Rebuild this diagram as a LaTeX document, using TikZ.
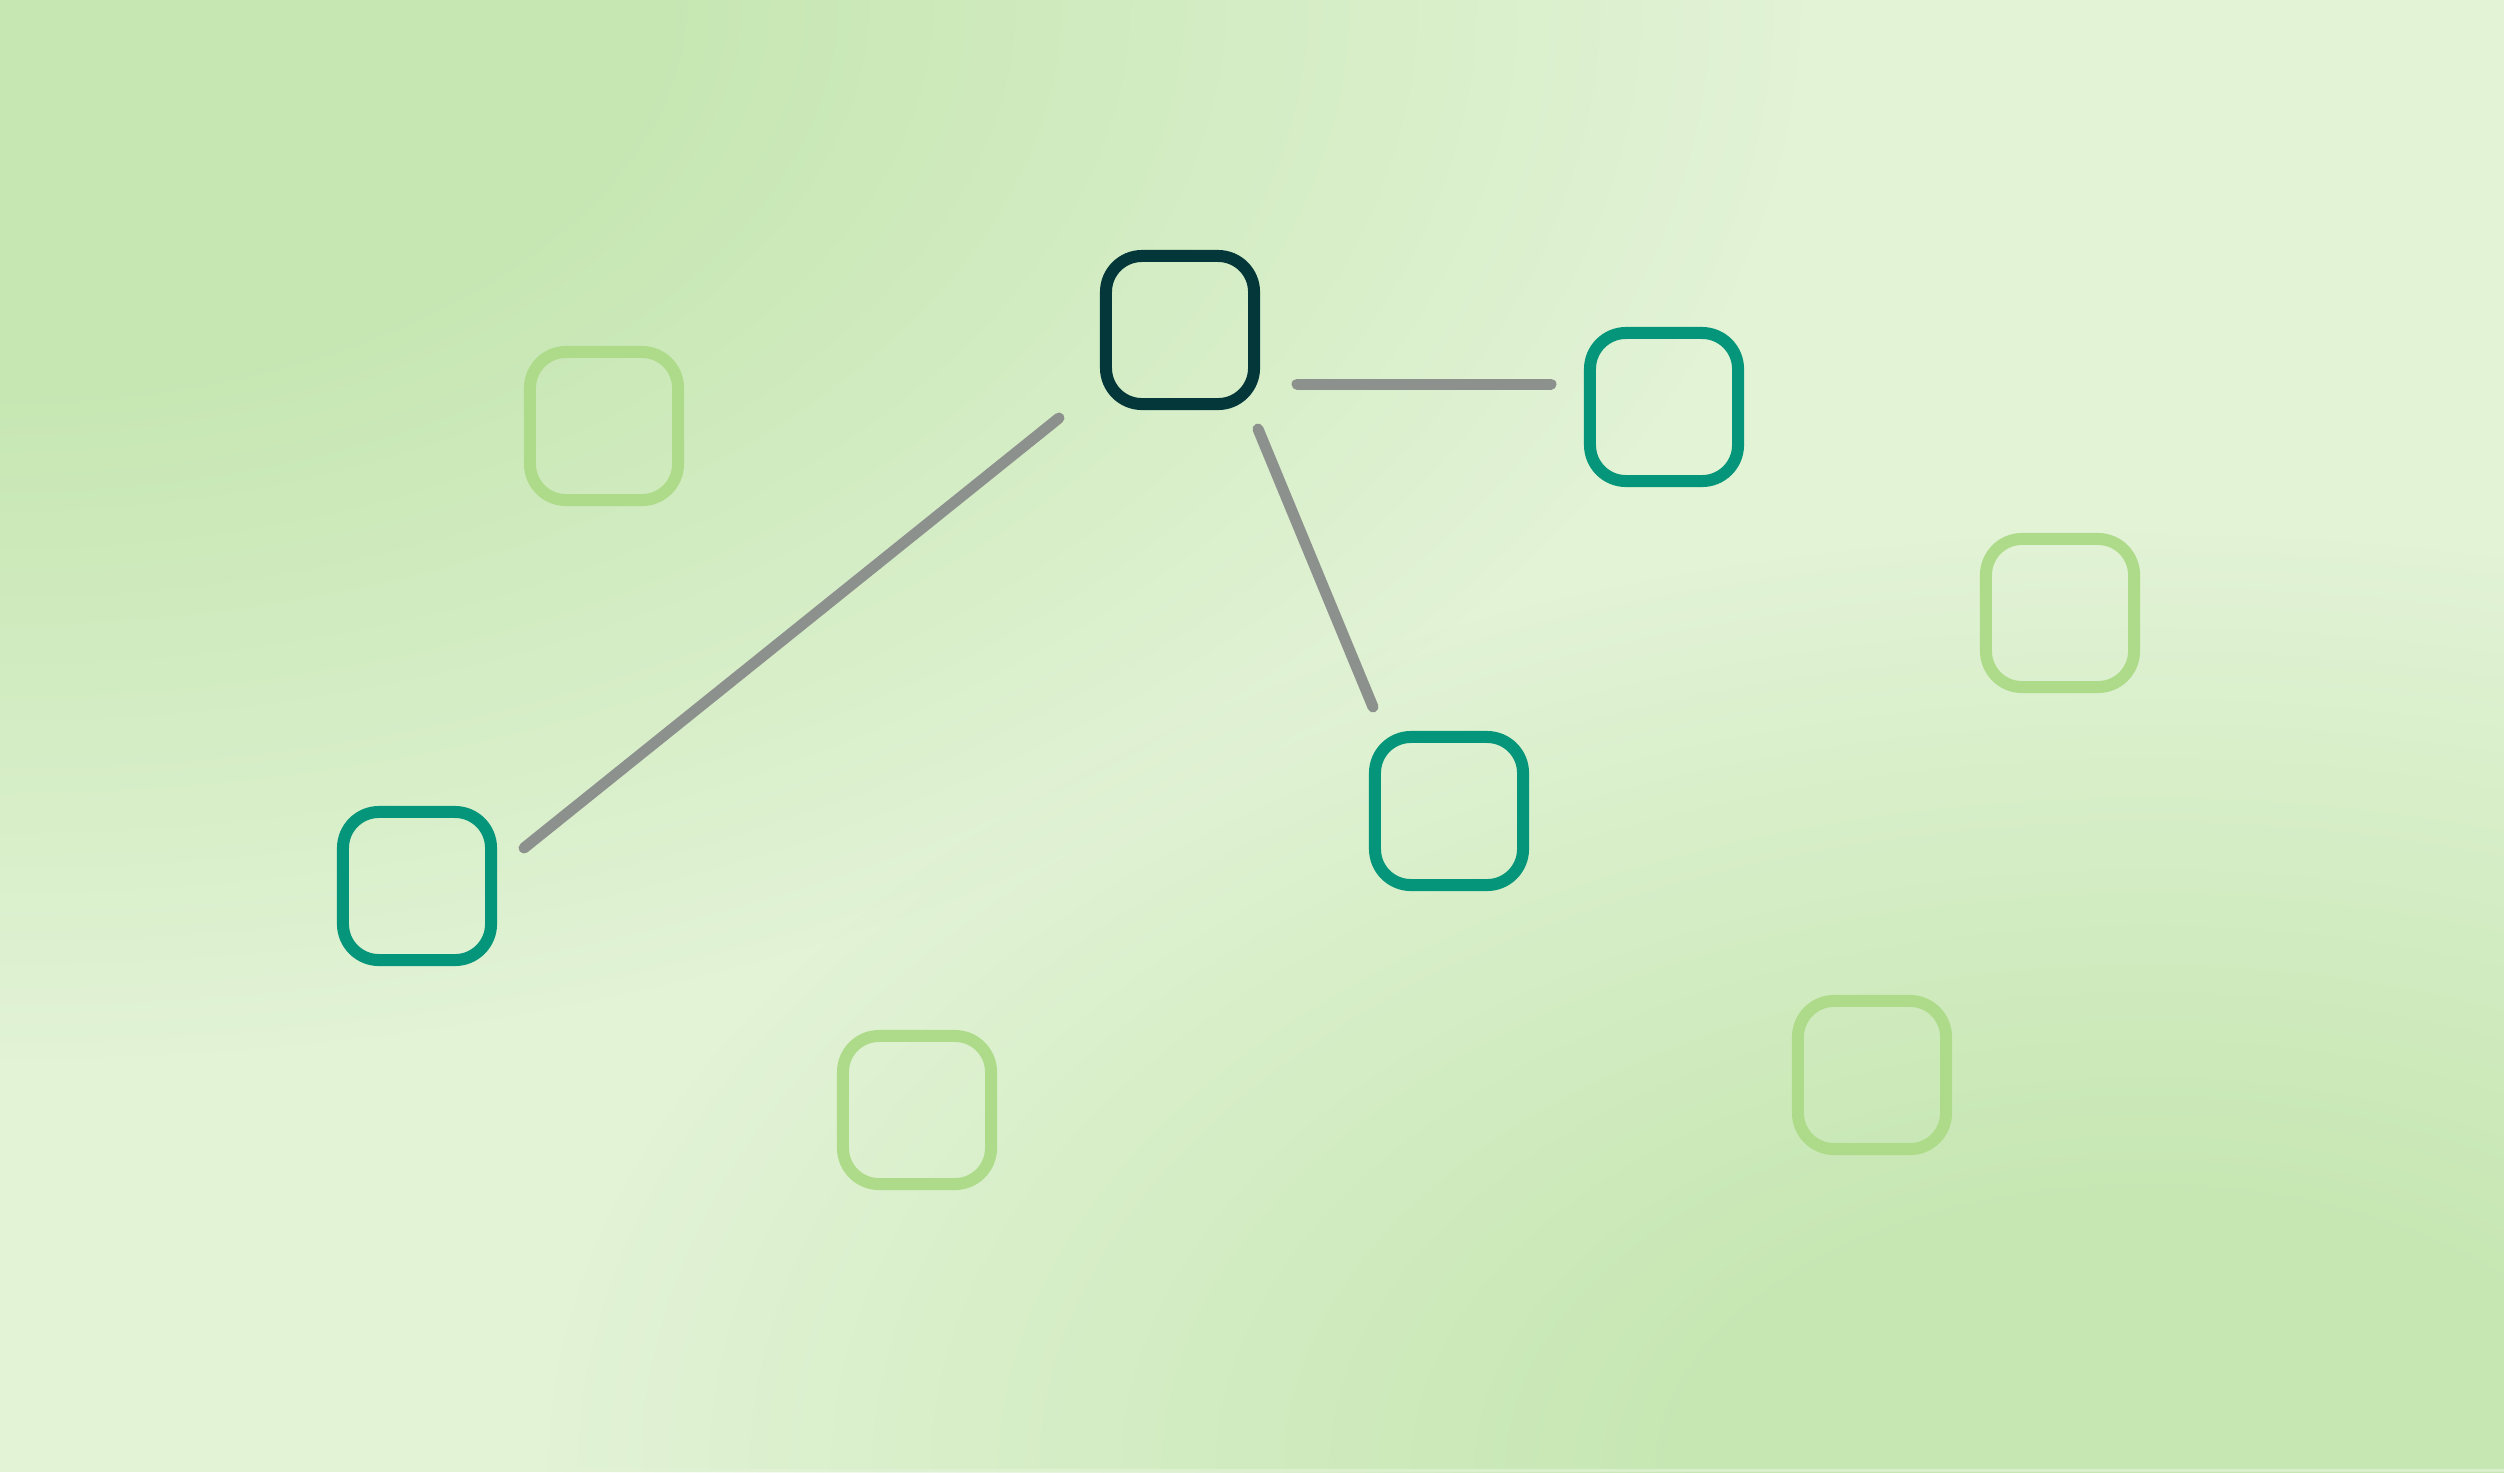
\documentclass[tikz,border=0pt]{standalone}
\usetikzlibrary{fadings}
\definecolor{bgdark}{HTML}{C6E7B2}
\definecolor{bglight}{HTML}{E2F3D6}
\definecolor{hubc}{HTML}{03373A}
\definecolor{tealc}{HTML}{05957A}
\definecolor{palec}{HTML}{AEDB8A}
\definecolor{linkc}{HTML}{8D918D}
\pgfdeclareradialshading{tlshade}{\pgfpointorigin}{color(0bp)=(white); color(8.9bp)=(white); color(25bp)=(black); color(50bp)=(black)}
\pgfdeclarefading{tlfade}{\pgfuseshading{tlshade}}
\pgfdeclareradialshading{brshade}{\pgfpointorigin}{color(0bp)=(white); color(7bp)=(white); color(25bp)=(black); color(50bp)=(black)}
\pgfdeclarefading{brfade}{\pgfuseshading{brshade}}
\begin{document}
\begin{tikzpicture}[x=0.01cm,y=-0.01cm,
  box/.style={draw, line width=0.12cm, rounded corners=0.36cm, minimum size=1.48cm, inner sep=0pt, outer sep=0pt},
  hub/.style={box, draw=hubc},
  tealbox/.style={box, draw=tealc},
  palebox/.style={box, draw=palec},
  link/.style={draw=linkc, line width=0.11cm, line cap=round}]
\useasboundingbox (0,0) rectangle (2504,1472);
\begin{scope}
  \clip (0,0) rectangle (2504,1472);
  \fill[bglight] (0,0) rectangle (2504,1472);
  \fill[bgdark, path fading=tlfade, fit fading=true] (0,0) ellipse [x radius=18cm, y radius=10.58cm];
  \fill[bgdark, path fading=brfade, fit fading=true] (2146,1472) ellipse [x radius=15.96cm, y radius=9.38cm];
\end{scope}
\fill[bglight, opacity=0.7] (0,1469) rectangle (2504,1472);
% nodes
\node[hub] (hub) at (1180,330) {};
\node[tealbox] (tr) at (1664,407) {};
\node[tealbox] (bm) at (1449,811) {};
\node[tealbox] (lf) at (417,886) {};
\node[palebox] (g1) at (604,426) {};
\node[palebox] (g2) at (2060,613) {};
\node[palebox] (g3) at (1872,1075) {};
\node[palebox] (g4) at (917,1110) {};
% connector ends
\coordinate (a1) at (1059,418);
\coordinate (a2) at (524,848);
\coordinate (b1) at (1297,384);
\coordinate (b2) at (1551,384);
\coordinate (c1) at (1258,429);
\coordinate (c2) at (1373,707);
\draw[link] (a1) -- (a2);
\draw[link] (b1) -- (b2);
\draw[link] (c1) -- (c2);
\end{tikzpicture}
\end{document}
